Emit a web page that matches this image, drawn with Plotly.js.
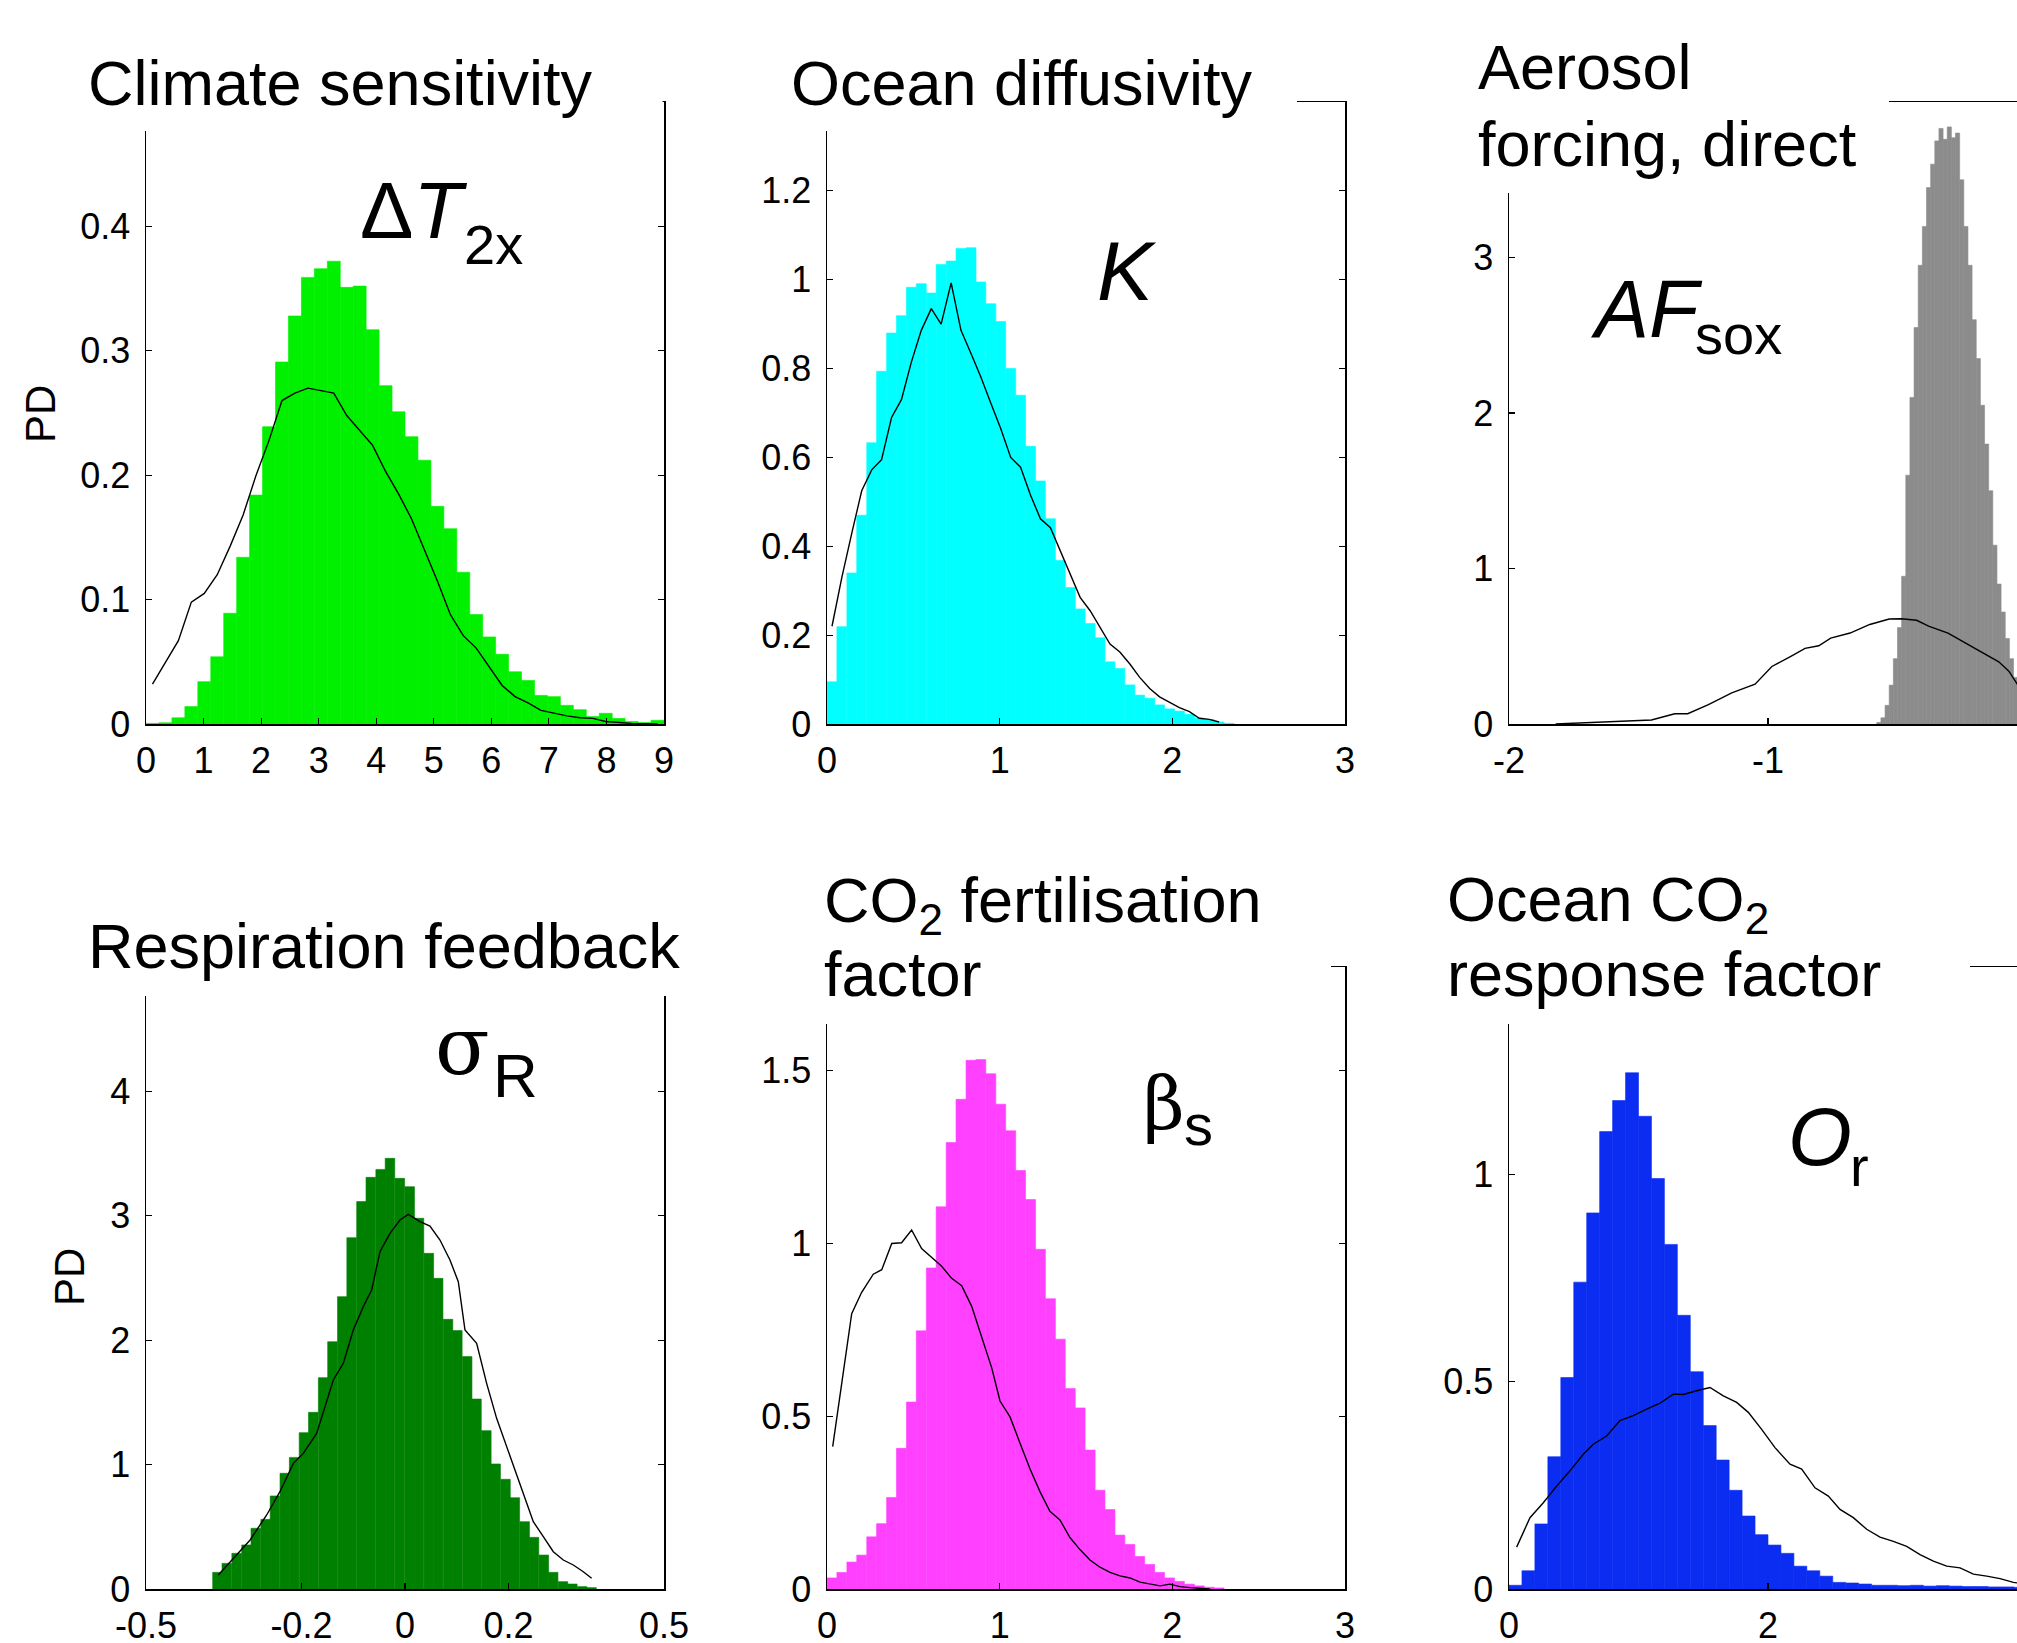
<!DOCTYPE html>
<html><head><meta charset="utf-8">
<script src="https://cdn.plot.ly/plotly-3.0.1.min.js"></script>
<style>html,body{margin:0;padding:0;overflow:hidden;background:#fff;}#chart{width:2040px;height:1643px;}</style>
</head><body><div id="chart"></div>
<script>
// ---------------- DATA ----------------
// Climate sensitivity (Delta T 2x)
const cs_bins = [0.1125,0.3375,0.5625,0.7875,1.0125,1.2375,1.4625,1.6875,1.9125,2.1375,2.3625,2.5875,2.8125,3.0375,3.2625,3.4875,3.7125,3.9375,4.1625,4.3875,4.6125,4.8375,5.0625,5.2875,5.5125,5.7375,5.9625,6.1875,6.4125,6.6375,6.8625,7.0875,7.3125,7.5375,7.7625,7.9875,8.2125,8.4375,8.6625,8.8875];
const cs_post = [0.0005,0.001,0.005,0.014,0.034,0.054,0.089,0.134,0.184,0.239,0.291,0.328,0.359,0.366,0.372,0.351,0.352,0.317,0.272,0.251,0.231,0.212,0.175,0.157,0.122,0.088,0.070,0.056,0.042,0.035,0.023,0.022,0.015,0.0115,0.006,0.0086,0.0045,0.002,0.0012,0.003];
const cs_prior = [0.032,0.05,0.067,0.098,0.105,0.12,0.143,0.168,0.2,0.228,0.26,0.266,0.27,0.268,0.266,0.248,0.236,0.224,0.203,0.185,0.165,0.14,0.115,0.088,0.071,0.061,0.046,0.031,0.022,0.017,0.011,0.0085,0.0065,0.005,0.0045,0.002,0.001,0.0005,0.0002,0];
const cs_xticks = [0,1,2,3,4,5,6,7,8,9];
const cs_xlabels = ['0','1','2','3','4','5','6','7','8','9'];
const cs_yticks = [0,0.1,0.2,0.3,0.4];
const cs_ylabels = ['0','0.1','0.2','0.3','0.4'];

// Ocean diffusivity (K)
const od_bins = [0.029,0.086,0.144,0.201,0.259,0.316,0.374,0.431,0.489,0.546,0.604,0.661,0.719,0.776,0.834,0.891,0.949,1.006,1.064,1.121,1.179,1.236,1.294,1.351,1.409,1.466,1.524,1.581,1.639,1.696,1.754,1.811,1.869,1.926,1.984,2.041,2.099,2.156,2.214,2.271,2.329];
const od_post = [0.095,0.219,0.34,0.47,0.633,0.794,0.88,0.919,0.983,0.991,0.97,1.034,1.042,1.07,1.072,0.995,0.946,0.906,0.8,0.74,0.625,0.547,0.462,0.368,0.307,0.259,0.226,0.194,0.14,0.125,0.088,0.065,0.058,0.043,0.034,0.029,0.022,0.013,0.01,0.0045,0.0015];
const od_prior = [0.22,0.33,0.43,0.525,0.572,0.595,0.69,0.73,0.815,0.886,0.935,0.9,0.993,0.886,0.834,0.781,0.722,0.665,0.6,0.578,0.515,0.462,0.442,0.39,0.336,0.285,0.255,0.218,0.18,0.162,0.135,0.105,0.08,0.061,0.048,0.037,0.028,0.013,0.0105,0.0045];
const od_xticks = [0,1,2,3];
const od_xlabels = ['0','1','2','3'];
const od_yticks = [0,0.2,0.4,0.6,0.8,1,1.2];
const od_ylabels = ['0','0.2','0.4','0.6','0.8','1','1.2'];

// Aerosol forcing, direct (AF sox)
const af_bins = [-0.572,-0.556,-0.540,-0.524,-0.508,-0.492,-0.476,-0.460,-0.444,-0.428,-0.412,-0.396,-0.380,-0.364,-0.348,-0.332,-0.316,-0.300,-0.284,-0.268,-0.252,-0.236,-0.220,-0.204,-0.188,-0.172,-0.156,-0.140,-0.124,-0.108,-0.092,-0.076,-0.060,-0.044,-0.028,-0.012];
const af_post = [0.01,0.04,0.12,0.25,0.42,0.62,0.95,1.6,2.1,2.55,2.95,3.2,3.45,3.6,3.75,3.83,3.76,3.84,3.77,3.8,3.5,3.2,2.95,2.6,2.35,2.05,1.8,1.5,1.15,0.9,0.72,0.55,0.42,0.3,0.2,0.12];
const af_line_x = [-1.82,-1.66,-1.57,-1.45,-1.36,-1.31,-1.23,-1.14,-1.05,-0.985,-0.91,-0.857,-0.804,-0.758,-0.683,-0.607,-0.532,-0.486,-0.426,-0.38,-0.305,-0.23,-0.169,-0.109,-0.07,-0.04,0];
const af_line_y = [0,0.01,0.016,0.026,0.066,0.066,0.125,0.2,0.256,0.37,0.437,0.486,0.503,0.552,0.585,0.64,0.675,0.677,0.667,0.63,0.585,0.513,0.455,0.40,0.34,0.26,0.16];
const af_xticks = [-2,-1];
const af_xlabels = ['-2','-1'];
const af_yticks = [0,1,2,3];
const af_ylabels = ['0','1','2','3'];

// Respiration feedback (sigma R)
const rf_bins = [-0.362,-0.344,-0.325,-0.306,-0.288,-0.269,-0.251,-0.232,-0.214,-0.195,-0.177,-0.158,-0.140,-0.121,-0.103,-0.084,-0.066,-0.047,-0.029,-0.010,0.009,0.027,0.046,0.064,0.083,0.101,0.120,0.138,0.157,0.175,0.194,0.212,0.231,0.249,0.268,0.286,0.305,0.323,0.342,0.360];
const rf_post = [0.134,0.206,0.287,0.354,0.488,0.56,0.748,0.93,1.058,1.257,1.42,1.699,1.988,2.35,2.824,3.114,3.309,3.373,3.462,3.301,3.234,2.98,2.698,2.497,2.168,2.077,1.868,1.527,1.273,1.005,0.882,0.734,0.541,0.415,0.273,0.134,0.059,0.04,0.019,0.011];
const rf_line_x = [-0.3604,-0.3315,-0.299,-0.267,-0.2414,-0.2156,-0.1963,-0.1706,-0.1384,-0.1191,-0.0998,-0.0805,-0.0644,-0.0483,-0.029,-0.0097,0.0064,0.0289,0.0482,0.0675,0.0868,0.1029,0.1158,0.1383,0.1576,0.1769,0.1962,0.2155,0.2316,0.2477,0.267,0.2863,0.3056,0.3249,0.3442,0.3603];
const rf_line_y = [0.1125,0.2465,0.394,0.595,0.782,1.01,1.09,1.251,1.68,1.814,2.082,2.27,2.403,2.712,2.859,2.966,3.012,2.953,2.918,2.805,2.645,2.47,2.082,1.975,1.653,1.372,1.144,0.93,0.742,0.541,0.421,0.3,0.233,0.193,0.139,0.086];
const rf_xticks = [-0.5,-0.2,0,0.2,0.5];
const rf_xlabels = ['-0.5','-0.2','0','0.2','0.5'];
const rf_yticks = [0,1,2,3,4];
const rf_ylabels = ['0','1','2','3','4'];

// CO2 fertilisation factor (beta s)
const cf_bins = [0.029,0.086,0.144,0.201,0.259,0.316,0.374,0.431,0.489,0.546,0.604,0.661,0.719,0.776,0.834,0.891,0.949,1.006,1.064,1.121,1.179,1.236,1.294,1.351,1.409,1.466,1.524,1.581,1.639,1.696,1.754,1.811,1.869,1.926,1.984,2.041,2.099,2.156,2.214,2.271];
const cf_post = [0.032,0.048,0.078,0.098,0.151,0.189,0.265,0.407,0.541,0.747,0.929,1.106,1.292,1.417,1.53,1.532,1.491,1.403,1.326,1.211,1.127,0.983,0.84,0.723,0.58,0.524,0.402,0.286,0.23,0.156,0.129,0.094,0.071,0.048,0.032,0.022,0.014,0.009,0.005,0.003];
const cf_line_x = [0.033,0.091,0.143,0.2,0.268,0.317,0.375,0.432,0.49,0.548,0.606,0.664,0.722,0.78,0.838,0.896,0.954,1.002,1.06,1.118,1.176,1.234,1.291,1.349,1.407,1.465,1.523,1.581,1.639,1.697,1.755,1.813,1.871,1.929,1.986,2.044,2.102,2.16,2.218];
const cf_line_y = [0.412,0.615,0.797,0.858,0.911,0.924,1.0,1.002,1.039,0.985,0.959,0.934,0.899,0.878,0.818,0.726,0.64,0.544,0.498,0.422,0.347,0.281,0.225,0.2,0.149,0.114,0.084,0.063,0.048,0.038,0.032,0.02,0.014,0.009,0.014,0.007,0.004,0.001,0];
const cf_xticks = [0,1,2,3];
const cf_xlabels = ['0','1','2','3'];
const cf_yticks = [0,0.5,1,1.5];
const cf_ylabels = ['0','0.5','1','1.5'];

// Ocean CO2 response factor (O r)
const oc_bins = [0.05,0.15,0.25,0.35,0.45,0.55,0.65,0.75,0.85,0.95,1.05,1.15,1.25,1.35,1.45,1.55,1.65,1.75,1.85,1.95,2.05,2.15,2.25,2.35,2.45,2.55,2.65,2.75,2.85,2.95,3.05,3.15,3.25,3.35,3.45,3.55,3.65,3.75,3.85,3.95];
const oc_post = [0.009,0.044,0.157,0.319,0.51,0.74,0.907,1.103,1.178,1.245,1.14,0.99,0.831,0.66,0.524,0.394,0.311,0.238,0.176,0.131,0.106,0.086,0.055,0.044,0.031,0.016,0.0145,0.012,0.009,0.009,0.008,0.009,0.007,0.008,0.007,0.006,0.006,0.005,0.005,0.004];
const oc_line_x = [0.059,0.162,0.265,0.368,0.471,0.574,0.651,0.754,0.857,0.96,1.063,1.166,1.269,1.346,1.449,1.552,1.655,1.758,1.848,1.951,2.054,2.17,2.26,2.363,2.466,2.556,2.659,2.762,2.865,2.968,3.071,3.174,3.277,3.38,3.483,3.586,3.689,3.792,3.895,3.99];
const oc_line_y = [0.101,0.172,0.208,0.248,0.285,0.325,0.349,0.369,0.406,0.418,0.434,0.448,0.47,0.469,0.478,0.486,0.466,0.45,0.426,0.385,0.341,0.301,0.289,0.244,0.224,0.192,0.172,0.144,0.125,0.115,0.103,0.083,0.067,0.055,0.051,0.036,0.031,0.025,0.016,0.012];
const oc_xticks = [0,2];
const oc_xlabels = ['0','2'];
const oc_yticks = [0,0.5,1];
const oc_ylabels = ['0','0.5','1'];

// ---------------- LAYOUT / STYLE ----------------
const W = 2040, H = 1643;
const fx = p => p / W;
const fy = p => 1 - p / H;
const SANS = 'Liberation Sans, Arial, Helvetica, sans-serif';
const SERIF = 'DejaVu Serif, Liberation Serif, serif';

const colsPx = [[146,664],[827,1345],[1509,2027]];
const rowsPx = [[102,724],[967,1589]];

const panels = [
  {bx:cs_bins, by:cs_post, lx:cs_bins, ly:cs_prior, color:'#00F000', bw:0.225, xr:[0,9], yr:[0,0.5],
   xt:cs_xticks, xl:cs_xlabels, yt:cs_yticks, yl:cs_ylabels, c:0, r:0},
  {bx:od_bins, by:od_post, lx:od_bins.slice(0, od_prior.length), ly:od_prior, color:'#00FFFF', bw:0.0575, xr:[0,3], yr:[0,1.4],
   xt:od_xticks, xl:od_xlabels, yt:od_yticks, yl:od_ylabels, c:1, r:0},
  {bx:af_bins, by:af_post, lx:af_line_x, ly:af_line_y, color:'#8C8C8C', bw:0.016, xr:[-2,0], yr:[0,4],
   xt:af_xticks, xl:af_xlabels, yt:af_yticks, yl:af_ylabels, c:2, r:0},
  {bx:rf_bins, by:rf_post, lx:rf_line_x, ly:rf_line_y, color:'#008000', bw:0.0185, xr:[-0.5,0.5], yr:[0,5],
   xt:rf_xticks, xl:rf_xlabels, yt:rf_yticks, yl:rf_ylabels, c:0, r:1},
  {bx:cf_bins, by:cf_post, lx:cf_line_x, ly:cf_line_y, color:'#FF40FF', bw:0.0575, xr:[0,3], yr:[0,1.8],
   xt:cf_xticks, xl:cf_xlabels, yt:cf_yticks, yl:cf_ylabels, c:1, r:1},
  {bx:oc_bins, by:oc_post, lx:oc_line_x, ly:oc_line_y, color:'#0B2DF2', bw:0.1, xr:[0,4], yr:[0,1.5],
   xt:oc_xticks, xl:oc_xlabels, yt:oc_yticks, yl:oc_ylabels, c:2, r:1}
];

function axisBase(){
  return {
    ticks:'inside', ticklen:6, tickwidth:1.2, tickcolor:'#000',
    showline:true, linecolor:'#000', linewidth:1.5, mirror:'ticks',
    showgrid:false, zeroline:false, fixedrange:true, tickmode:'array',
    tickfont:{family:SANS, size:36, color:'#000'}
  };
}

const traces = [];
const layout = {
  width:W, height:H, margin:{l:0,r:0,t:0,b:0,pad:0},
  paper_bgcolor:'#fff', plot_bgcolor:'rgba(0,0,0,0)',
  showlegend:false, barmode:'overlay', bargap:0,
  shapes:[], annotations:[]
};

panels.forEach((p, i) => {
  const n = i === 0 ? '' : String(i + 1);
  const xa = 'x' + n, ya = 'y' + n;
  const cx = colsPx[p.c], ry = rowsPx[p.r];
  layout['xaxis' + n] = Object.assign(axisBase(), {
    domain:[fx(cx[0]), fx(cx[1])], range:p.xr, anchor:ya,
    tickvals:p.xt, ticktext:p.xl, ticklabelstandoff:4
  });
  layout['yaxis' + n] = Object.assign(axisBase(), {
    domain:[fy(ry[1]), fy(ry[0])], range:p.yr, anchor:xa,
    tickvals:p.yt, ticktext:p.yl, ticklabelstandoff:7
  });
  traces.push({type:'bar', x:p.bx, y:p.by, width:p.bw, xaxis:xa, yaxis:ya,
    marker:{color:p.color, line:{color:p.color, width:0.6}}, hoverinfo:'skip'});
  traces.push({type:'scatter', mode:'lines', x:p.lx, y:p.ly, xaxis:xa, yaxis:ya,
    line:{color:'#000', width:1.4}, hoverinfo:'skip'});
});

// white boxes behind titles (hide parts of the axis frame like the original)
const hideBoxes = [
  [70, 0, 662.5, 131], [760, 0, 1297, 131], [1440, 0, 1889, 193],
  [70, 880, 672, 996], [760, 860, 1331, 1024], [1420, 860, 1970, 1024]
];
hideBoxes.forEach(b => layout.shapes.push({
  type:'rect', xref:'paper', yref:'paper', layer:'above',
  x0:fx(b[0]), x1:fx(b[2]), y0:fy(b[3]), y1:fy(b[1]),
  fillcolor:'#fff', line:{width:0}
}));

function txt(text, left, top, size, family, extra){
  layout.annotations.push(Object.assign({
    text:text, xref:'paper', yref:'paper', x:fx(left), y:fy(top),
    xanchor:'left', yanchor:'top', showarrow:false, borderpad:0, borderwidth:0,
    font:{family:family || SANS, size:size, color:'#000'}
  }, extra || {}));
}
// panel titles
txt('Climate sensitivity', 88, 48, 63);
txt('Ocean diffusivity', 791, 48, 63);
txt('Aerosol', 1478, 32, 63);
txt('forcing, direct', 1478, 109, 63);
txt('Respiration feedback', 88, 911, 63);
txt('CO<sub>2</sub> fertilisation', 824, 865, 63);
txt('factor', 824, 939, 63);
txt('Ocean CO<sub>2</sub>', 1447, 864, 63);
txt('response factor', 1447, 939, 63);
// parameter symbols
txt('\u0394<i>T</i>', 360, 165.6, 80);
txt('2x', 464, 213, 56);
txt('<i>K</i>', 1097, 224, 84);
txt('<i>AF</i>', 1591, 264, 81);
txt('sox', 1695, 303, 56);
txt('\u03C3', 435, 1000, 80, SERIF);
txt('R', 493, 1041, 62);
txt('\u03B2', 1143, 1062, 72, SERIF);
txt('s', 1184, 1092, 58);
txt('<i>O</i>', 1788, 1091, 82);
txt('r', 1850, 1135, 56);
// y-axis labels
layout.annotations.push({text:'PD', xref:'paper', yref:'paper', x:fx(40), y:fy(414),
  xanchor:'center', yanchor:'middle', textangle:-90, showarrow:false, borderpad:0,
  font:{family:SANS, size:42, color:'#000'}});
layout.annotations.push({text:'PD', xref:'paper', yref:'paper', x:fx(69), y:fy(1277),
  xanchor:'center', yanchor:'middle', textangle:-90, showarrow:false, borderpad:0,
  font:{family:SANS, size:42, color:'#000'}});

Plotly.newPlot('chart', traces, layout, {staticPlot:true, displayModeBar:false});
</script></body></html>
